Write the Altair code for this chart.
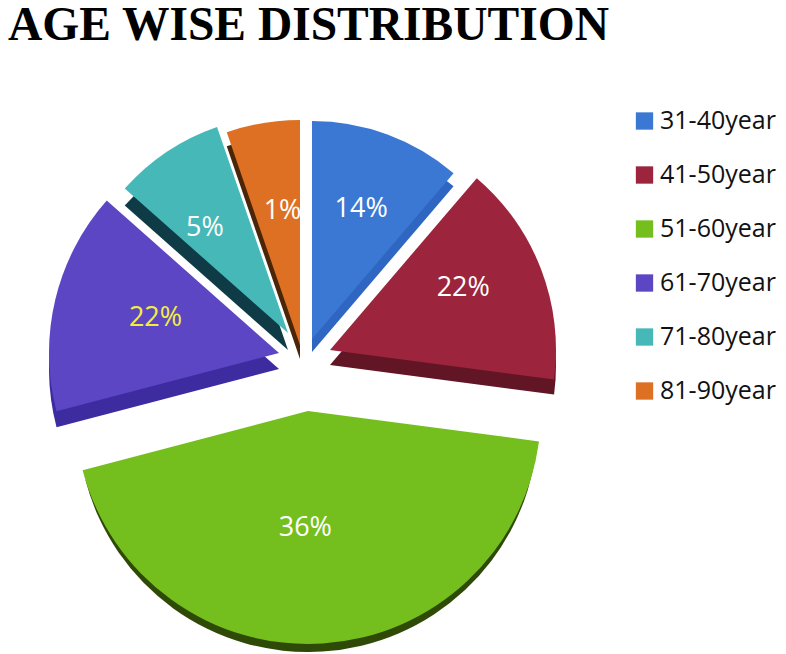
import altair as alt
import pandas as pd

TITLE = "AGE WISE DISTRIBUTION"
categories = ["31-40year", "41-50year", "51-60year", "61-70year", "71-80year", "81-90year"]
labels = ["14%", "22%", "36%", "22%", "5%", "1%"]
# drawn size of each slice, in degrees
sweep = [40.5, 57.0, 157.8, 56.2, 29.5, 19.0]

fills = ["#3B78D3", "#9C243C", "#74BF1E", "#5C46C4", "#46B8B8", "#DD7022"]
sides = ["#2F66C2", "#611525", "#2F4A06", "#3C2CA0", "#0E3B45", "#4A2508"]
label_colors = ["white", "white", "white", "#F4EE3C", "white", "white"]

# layout of the exploded slices: centre x, centre y, radius, depth, side-radius shrink
centers = [(304, 331, 218, 13, 0), (322, 342, 226, 15, 0), (300, 403, 233, 11, 3),
           (271, 345, 230, 16, 0), (280, 325, 218, 17, 0), (292, 337, 225, 14, 0)]
label_radius = [139, 147, 116, 129, 135, 136]
label_nudge = [(1, 0), (-4, -9), (-10, 1), (2, -5), (-8, 7), (5, 0)]

FONT = "Open Sans"
start, acc = [], 0.0
for s in sweep:
    start.append(acc)
    acc += s
df = pd.DataFrame({
    "cat": categories, "label": labels, "start": start,
    "end": [a + b for a, b in zip(start, sweep)],
})
df["mid"] = (df["start"] + df["end"]) / 2

theta_scale = alt.Scale(domain=[0, 360], range=[0, 6.283185307])
theta = alt.Theta("start:Q", scale=theta_scale)
theta2 = alt.Theta2("end:Q")
base = alt.Chart(df)
color = alt.Color(
    "cat:N",
    scale=alt.Scale(domain=categories, range=fills),
    legend=alt.Legend(
        title=None, orient="none", legendX=624, legendY=99, padding=0,
        symbolType="square", symbolSize=300, symbolStrokeWidth=0, symbolOpacity=1,
        labelFont=FONT, labelFontSize=25, labelColor="#111111", labelOffset=3,
        rowPadding=26, labelLimit=200, clipHeight=28,
    ),
)

layers = []
for i, c in enumerate(categories):
    cx, cy, r, d, k = centers[i]
    layers.append(
        base.transform_filter(alt.datum.cat == c)
        .mark_arc(radius=r - k, color=sides[i])
        .encode(theta=theta, theta2=theta2, x=alt.value(cx), y=alt.value(cy + d))
    )
for i, c in enumerate(categories):
    cx, cy, r, d, k = centers[i]
    layers.append(
        base.transform_filter(alt.datum.cat == c)
        .mark_arc(radius=r)
        .encode(theta=theta, theta2=theta2, color=color, x=alt.value(cx), y=alt.value(cy))
    )
for i, c in enumerate(categories):
    cx, cy, r, d, k = centers[i]
    nx, ny = label_nudge[i]
    layers.append(
        base.transform_filter(alt.datum.cat == c)
        .mark_text(font=FONT, fontSize=27, color=label_colors[i], dx=nx, dy=ny,
                   align="center", baseline="middle")
        .encode(theta=alt.Theta("mid:Q", scale=theta_scale), radius=alt.value(label_radius[i]),
                x=alt.value(cx), y=alt.value(cy), text="label:N")
    )
layers.append(
    alt.Chart(pd.DataFrame({"t": [TITLE]}))
    .mark_text(font="Liberation Serif", fontWeight="bold", fontSize=47.5, color="black",
               align="left", baseline="alphabetic")
    .encode(x=alt.value(0), y=alt.value(32), text="t:N")
)

chart = (
    alt.layer(*layers)
    .properties(width=770, height=644, padding=0, background="white",
                autosize=alt.AutoSizeParams(type="none"))
    .configure_view(stroke=None)
)
chart.save("out.html", embed_options={"renderer": "svg", "actions": False})
